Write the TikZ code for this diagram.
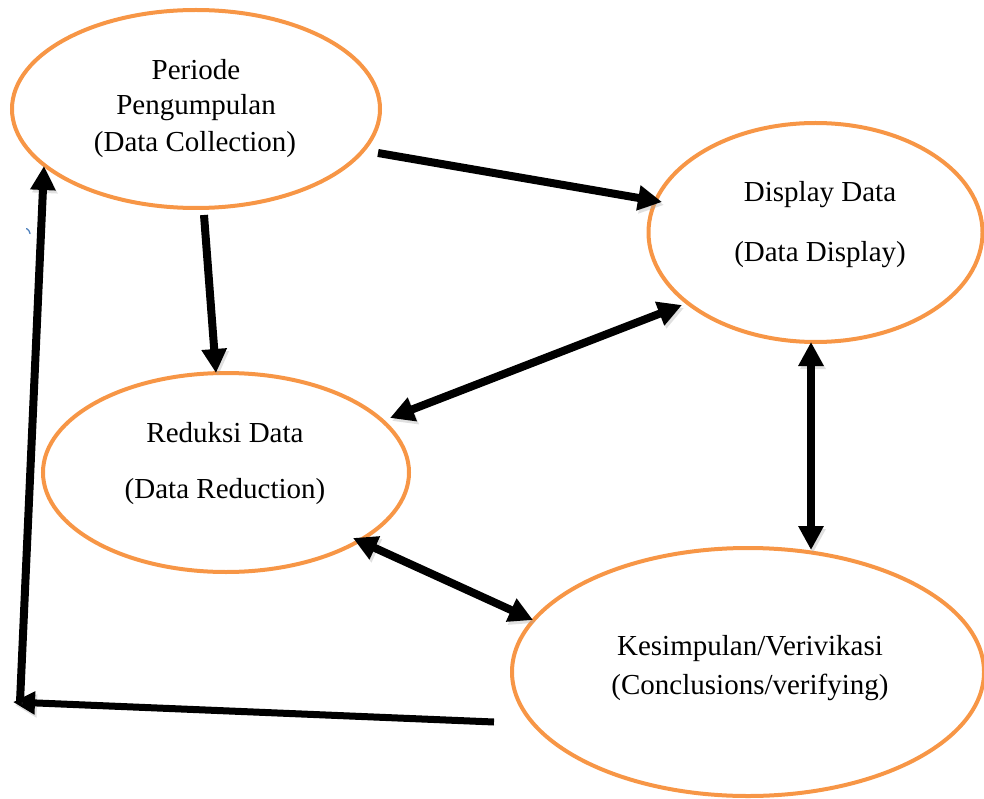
\documentclass[tikz,border=0pt]{standalone}
\usepackage{fontspec}
\setmainfont{Liberation Serif}
\usetikzlibrary{arrows.meta,shapes.geometric}
\definecolor{accent}{HTML}{F79646}
\definecolor{tickblue}{HTML}{4F81BD}

\begin{document}
\begin{tikzpicture}[x=1pt,y=-1pt,
  stage/.style={ellipse, draw=accent, line width=4pt, inner sep=0pt},
  caption/.style={anchor=base, inner sep=0pt, font=\fontsize{29}{34}\selectfont},
  tip/.tip={Triangle[length=24pt,width=24pt]},
  shadowed/.style={preaction={draw=black!35, opacity=0.35,
      transform canvas={shift={(2pt,-3pt)}}}},
  flow/.style={shadowed, line width=8pt, -tip},
  twoway/.style={shadowed, line width=8pt, tip-tip}]

\useasboundingbox (0,0) rectangle (984,799);

% the four stages of the analysis cycle
\node[stage, minimum width=368pt, minimum height=198pt] (per) at (196,109) {};
\node[stage, minimum width=334pt, minimum height=219pt] (dsp) at (815.5,232.5) {};
\node[stage, minimum width=366pt, minimum height=199pt] (red) at (226,472.5) {};
\node[stage, minimum width=472pt, minimum height=248pt] (kes) at (748,672) {};

% captions
\node[caption] (per-a) at (196,80)  {Periode};
\node[caption] (per-b) at (196,115) {Pengumpulan};
\node[caption] (per-c) at (195,152) {(Data Collection)};
\node[caption] (dsp-a) at (820,202) {Display Data};
\node[caption] (dsp-b) at (820,262) {(Data Display)};
\node[caption] (red-a) at (225,442) {Reduksi Data};
\node[caption] (red-b) at (225,498) {(Data Reduction)};
\node[caption] (kes-a) at (750,655) {Kesimpulan/Verivikasi};
\node[caption] (kes-b) at (750,694) {(Conclusions/verifying)};

% connector end points
\coordinate (per-out-dsp) at (378,153);
\coordinate (dsp-in-per)  at (662,202);
\coordinate (per-out-red) at (204,215);
\coordinate (red-in-per)  at (216,373);
\coordinate (red-dsp)     at (390,418);
\coordinate (dsp-red)     at (682,305);
\coordinate (dsp-kes)     at (811,342);
\coordinate (kes-dsp)     at (811,550);
\coordinate (red-kes)     at (353,538);
\coordinate (kes-red)     at (533,620);
\coordinate (kes-out)     at (494,722);
\coordinate (corner)      at (13,702);
\coordinate (corner-up)   at (20,702);
\coordinate (per-in)      at (44,166);

% connectors
\draw[flow]   (per-out-dsp) -- (dsp-in-per);
\draw[flow]   (per-out-red) -- (red-in-per);
\draw[twoway] (red-dsp) -- (dsp-red);
\draw[twoway] (dsp-kes) -- (kes-dsp);
\draw[twoway] (red-kes) -- (kes-red);
\draw[flow, -{Triangle[length=22pt,width=22pt]}, line width=7pt] (kes-out) -- (corner);
\draw[flow]   (corner-up) -- (per-in);

% small stray mark at the left
\draw[tickblue, line width=1.3pt, line cap=round] (26.5,228.5) to[bend left=25] (30,233.5);

\end{tikzpicture}
\end{document}
